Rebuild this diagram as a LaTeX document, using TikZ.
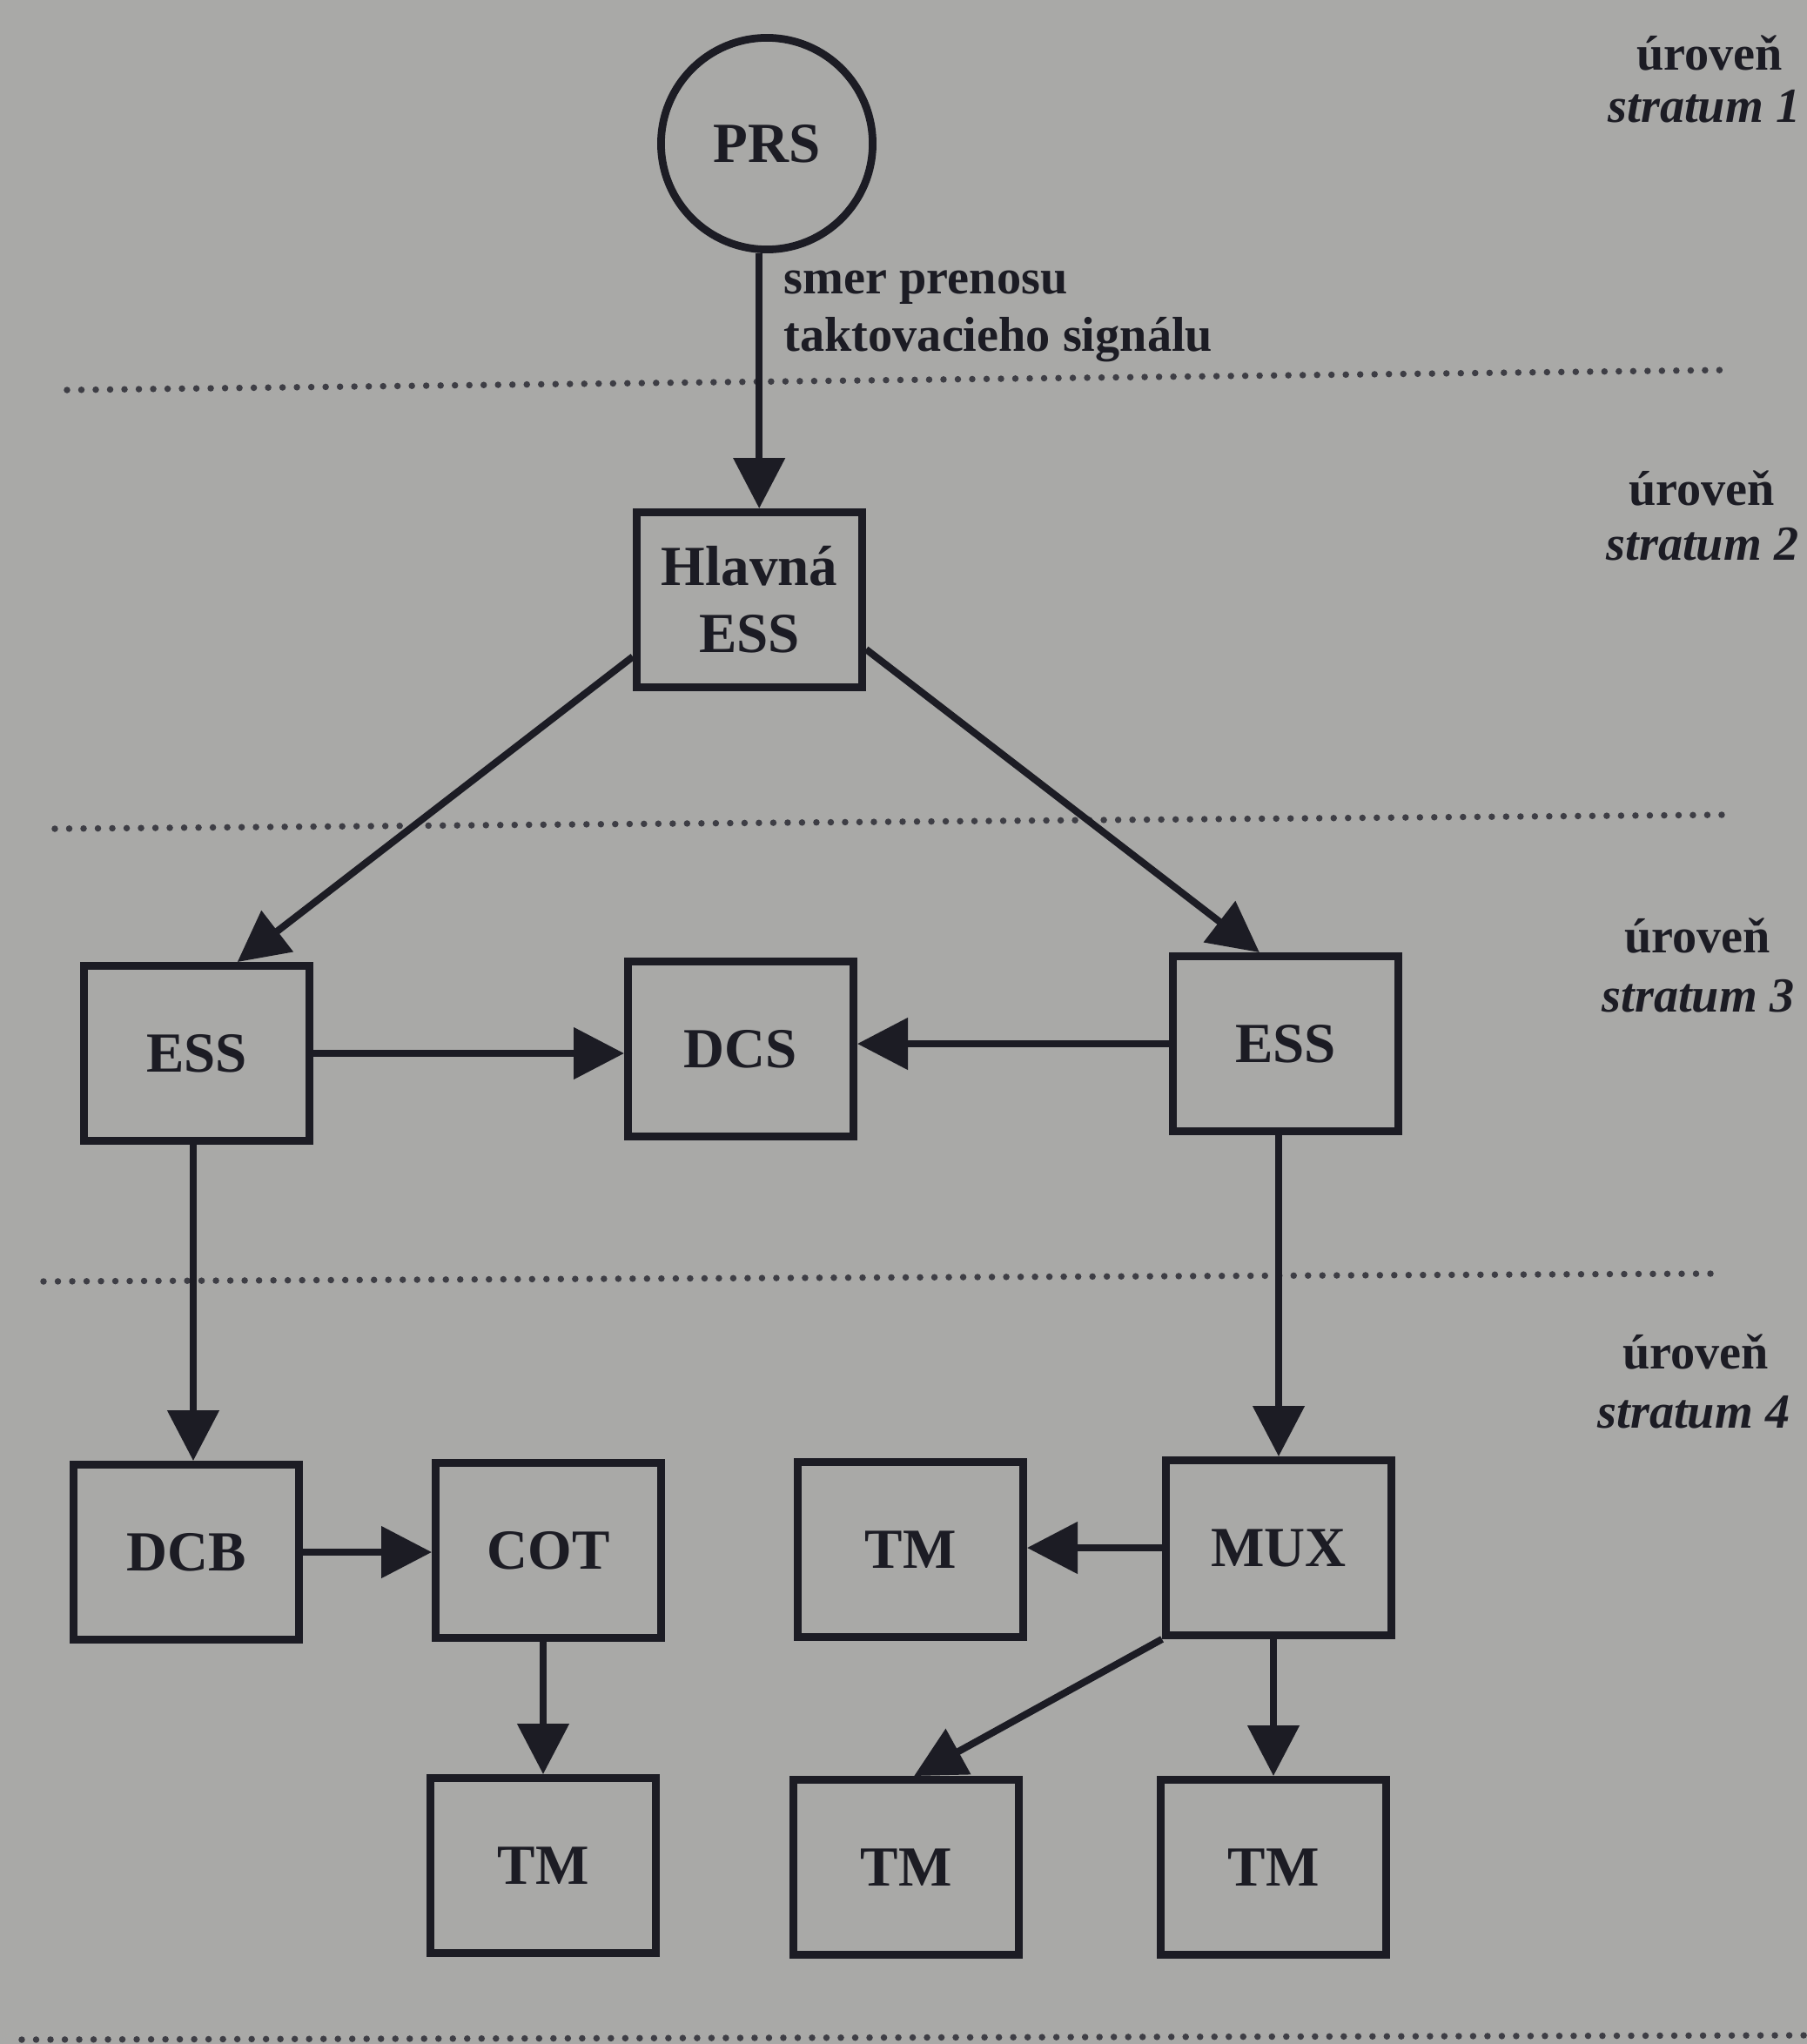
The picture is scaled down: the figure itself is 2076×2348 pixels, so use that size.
\documentclass[tikz,border=0pt]{standalone}
\usepackage{fontspec}
\setmainfont{Liberation Serif}
\usetikzlibrary{arrows.meta,calc}
\definecolor{bg}{RGB}{169,169,167}
\definecolor{ink}{RGB}{28,28,36}
\begin{document}
\begin{tikzpicture}[x=0.01cm,y=-0.01cm,
  box/.style={draw=ink, line width=2.5pt, minimum width=2.59cm, minimum height=2.01cm,
    inner sep=0pt, align=center, text=ink, font=\fontsize{18.5}{22}\selectfont\bfseries},
  conn/.style={draw=ink, line width=2.3pt, -{Triangle[length=0.58cm,width=0.58cm]}},
  sep/.style={draw=ink!85, line width=0.075cm, dash pattern=on 0pt off 0.165cm, line cap=round},
  lvl/.style={anchor=base, text=ink, inner sep=0pt, font=\fontsize{16}{19}\selectfont\bfseries},
  lvli/.style={lvl, font=\fontsize{16}{19}\selectfont\bfseries\itshape},
  note/.style={anchor=base west, text=ink, inner sep=0pt, font=\fontsize{16}{19}\selectfont\bfseries}]
\fill[bg] (0,0) rectangle (2076,2348);
\useasboundingbox (0,0) rectangle (2076,2348);

% separators
\draw[sep] (77,448) -- (1987,425);
\draw[sep] (63,952) -- (1980,936);
\draw[sep] (50,1472) -- (1975,1463);
\draw[sep] (25,2343) -- (2076,2338);

% level labels
\node[lvl]  (u1) at (1964,80)   {úroveň};
\node[lvli] (s1) at (1958,140)  {stratum 1};
\node[lvl]  (u2) at (1955,580)  {úroveň};
\node[lvli] (s2) at (1956,643)  {stratum 2};
\node[lvl]  (u3) at (1950,1094) {úroveň};
\node[lvli] (s3) at (1951,1162) {stratum 3};
\node[lvl]  (u4) at (1948,1572) {úroveň};
\node[lvli] (s4) at (1946,1640) {stratum 4};

% nodes
\node[box, circle, minimum size=2.43cm] (PRS) at (881,165) {PRS};
\node[box] (H)    at (861,689)  {Hlavná\\ESS};
\node[box] (ESSL) at (226,1210) {ESS};
\node[box] (DCS)  at (851,1205) {DCS};
\node[box] (ESSR) at (1477,1199) {ESS};
\node[box] (DCB)  at (214,1783) {DCB};
\node[box] (COT)  at (630,1781) {COT};
\node[box] (TMa)  at (1046,1780) {TM};
\node[box] (MUX)  at (1469,1778) {MUX};
\node[box] (TMb)  at (624,2143) {TM};
\node[box] (TMc)  at (1041,2145) {TM};
\node[box] (TMd)  at (1463,2145) {TM};

\node[note] (lab1) at (900,337) {smer prenosu};
\node[note] (lab2) at (900,403) {taktovacieho signálu};

% connectors
\draw[conn] (PRS.266) -- (PRS.266 |- H.north);
\draw[conn] (H.206) -- (ESSL.66);
\draw[conn] (H.337) -- (ESSR.106);
\draw[conn] (ESSL.east) -- (ESSL.east -| DCS.west);
\draw[conn] (ESSR.west) -- (ESSR.west -| DCS.east);
\draw[conn] (ESSL.south -| DCB.north) ++(8,0) coordinate (a1) -- (a1 |- DCB.north);
\draw[conn] (MUX.north |- ESSR.south) -- (MUX.north);
\draw[conn] (DCB.east) -- (DCB.east -| COT.west);
\draw[conn] (MUX.west) -- (MUX.west -| TMa.east);
\draw[conn] (TMb.north |- COT.south) -- (TMb.north);
\draw[conn] (MUX.south west) -- (TMc.85);
\draw[conn] (TMd.north |- MUX.south) -- (TMd.north);
\end{tikzpicture}
\end{document}
